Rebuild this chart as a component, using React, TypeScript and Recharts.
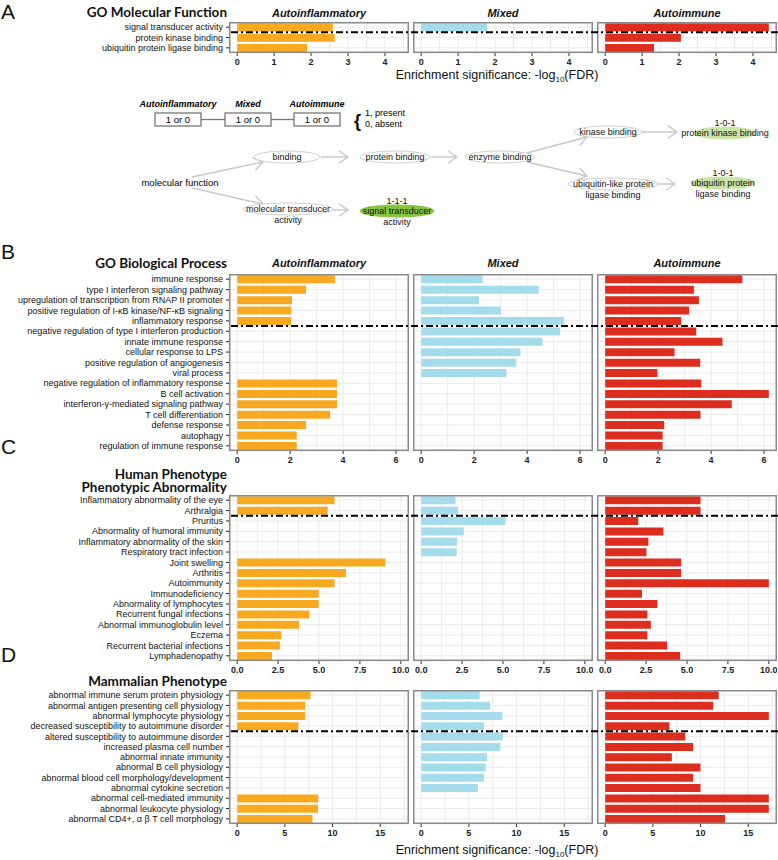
import { Bar, BarChart, CartesianGrid, XAxis, YAxis } from 'recharts';

const FACETS = ['Autoinflammatory', 'Mixed', 'Autoimmune'];
const COLORS = ['#F8A91F', '#A5DCEB', '#DC2D1E'];

// A: GO molecular function
const mfTerms = ['signal transducer activity', 'protein kinase binding', 'ubiquitin protein ligase binding'];
const mfAutoinflammatory = [2.59, 2.64, 1.89];
const mfMixed = [1.78, null, null];
const mfAutoimmune = [4.43, 2.05, 1.32];
const mfTicks = [0, 1, 2, 3, 4];

// B: GO biological process
const bpTerms = [
  'immune response',
  'type I interferon signaling pathway',
  'upregulation of transcription from RNAP II promoter',
  'positive regulation of I-\u03baB kinase/NF-\u03baB signaling',
  'inflammatory response',
  'negative regulation of type I interferon production',
  'innate immune response',
  'cellular response to LPS',
  'positive regulation of angiogenesis',
  'viral process',
  'negative regulation of inflammatory response',
  'B cell activation',
  'interferon-\u03b3-mediated signaling pathway',
  'T cell differentiation',
  'defense response',
  'autophagy',
  'regulation of immune response',
];
const bpAutoinflammatory = [3.69, 2.6, 2.07, 2.04, 2.04, null, null, null, null, null, 3.77, 3.77, 3.77, 3.51, 2.6, 2.25, 2.25];
const bpMixed = [2.32, 4.44, 2.18, 3.01, 5.39, 5.25, 4.58, 3.75, 3.59, 3.22, null, null, null, null, null, null, null];
const bpAutoimmune = [5.18, 3.35, 3.54, 3.17, 2.87, 3.44, 4.43, 2.62, 3.59, 1.97, 3.63, 6.18, 4.78, 3.6, 2.23, 2.17, 2.17];
const bpTicks = [0, 2, 4, 6];

// C: human phenotype
const hpTerms = [
  'Inflammatory abnormality of the eye',
  'Arthralgia',
  'Pruritus',
  'Abnormality of humoral immunity',
  'Inflammatory abnormality of the skin',
  'Respiratory tract infection',
  'Joint swelling',
  'Arthritis',
  'Autoimmunity',
  'Immunodeficiency',
  'Abnormality of lymphocytes',
  'Recurrent fungal infections',
  'Abnormal immunoglobulin level',
  'Eczema',
  'Recurrent bacterial infections',
  'Lymphadenopathy',
];
const hpAutoinflammatory = [5.95, 5.53, null, null, null, null, 9.05, 6.65, 5.95, 4.98, 4.98, 4.41, 3.78, 2.7, 2.61, 2.13];
const hpMixed = [2.1, 2.25, 5.15, 2.6, 2.2, 2.17, null, null, null, null, null, null, null, null, null, null];
const hpAutoimmune = [5.83, 5.83, 2.02, 3.56, 2.64, 2.52, 4.64, 4.64, 10.0, 2.25, 3.19, 2.58, 2.79, 2.58, 3.79, 4.58];
const hpTicks = [0, 2.5, 5, 7.5, 10];

// D: mammalian phenotype
const mpTerms = [
  'abnormal immune serum protein physiology',
  'abnormal antigen presenting cell physiology',
  'abnormal lymphocyte physiology',
  'decreased susceptibility to autoimmune disorder',
  'altered susceptibility to autoimmune disorder',
  'increased plasma cell number',
  'abnormal innate immunity',
  'abnormal B cell physiology',
  'abnormal blood cell morphology/development',
  'abnormal cytokine secretion',
  'abnormal cell-mediated immunity',
  'abnormal leukocyte physiology',
  'abnormal CD4+, \u03b1 \u03b2 T cell morphology',
];
const mpAutoinflammatory = [7.69, 7.13, 7.13, 6.42, null, null, null, null, null, null, 8.51, 8.48, 7.9];
const mpMixed = [6.13, 7.23, 8.51, 6.59, 8.59, 8.3, 6.91, 6.77, 6.59, 5.95, null, null, null];
const mpAutoimmune = [11.9, 11.33, 17.16, 6.74, 8.4, 9.22, 6.99, 9.99, 9.22, 9.99, 17.16, 17.16, 12.56];
const mpTicks = [0, 5, 10, 15];

const FACET_LEFT = [229, 413, 597];
const FACET_W = 180;
const AXIS_H = 20;
const SANS = "'Liberation Sans', Arial, sans-serif";
const TITLE_FONT = "Lato, 'Liberation Sans', sans-serif";

type Section = {
  letter: string;
  letterY: number;
  title: string[];
  titleY: number[];
  stripY?: number;
  terms: string[];
  series: (number | null)[][];
  majors: number[];
  split: number;
  top: number;
  height: number;
  fmt: (v: number) => string;
};

const sections: Section[] = [
  {
    letter: 'A', letterY: 19, title: ['GO Molecular Function'], titleY: [17], stripY: 17,
    terms: mfTerms, series: [mfAutoinflammatory, mfMixed, mfAutoimmune], majors: mfTicks,
    split: 1, top: 22, height: 31, fmt: (v) => String(v),
  },
  {
    letter: 'B', letterY: 259, title: ['GO Biological Process'], titleY: [268], stripY: 267,
    terms: bpTerms, series: [bpAutoinflammatory, bpMixed, bpAutoimmune], majors: bpTicks,
    split: 5, top: 274, height: 177, fmt: (v) => String(v),
  },
  {
    letter: 'C', letterY: 454, title: ['Human Phenotype', 'Phenotypic Abnormality'], titleY: [479, 492],
    terms: hpTerms, series: [hpAutoinflammatory, hpMixed, hpAutoimmune], majors: hpTicks,
    split: 2, top: 495, height: 166, fmt: (v) => v.toFixed(1),
  },
  {
    letter: 'D', letterY: 662, title: ['Mammalian Phenotype'], titleY: [686],
    terms: mpTerms, series: [mpAutoinflammatory, mpMixed, mpAutoimmune], majors: mpTicks,
    split: 4, top: 690, height: 134, fmt: (v) => String(v),
  },
];

// ggplot-style 5% expansion around 0..max
function domainOf(s: Section): [number, number] {
  const vals = s.series.flat().filter((v): v is number => v != null);
  const max = Math.max(...vals);
  return [-0.05 * max, 1.05 * max];
}

function ticksOf(s: Section) {
  const [, hi] = domainOf(s);
  const step = s.majors[1] - s.majors[0];
  const minors = s.majors.map((m) => m + step / 2).filter((v) => v <= hi);
  return [...s.majors, ...minors].sort((a, b) => a - b);
}

function makeTick(s: Section) {
  return (props: any) => {
    const { x, y, payload } = props;
    if (!s.majors.includes(payload.value)) return <g />;
    return (
      <g>
        <line x1={x} x2={x} y1={y} y2={y + 3} stroke="#333" />
        <text x={x} y={y + 12} textAnchor="middle" fontSize={9} fontWeight="bold" fill="#222" fontFamily={SANS}>
          {s.fmt(payload.value)}
        </text>
      </g>
    );
  };
}

function TermTick(props: any) {
  const { x, y, payload } = props;
  return (
    <text x={x} y={y} dy="0.35em" textAnchor="end" fontSize={9} fill="#111" fontFamily={SANS}>
      {payload.value}
    </text>
  );
}

function Facet({ s, index }: { s: Section; index: number }) {
  const showLabels = index === 0;
  const labelW = showLabels ? FACET_LEFT[0] : 0;
  const data = s.terms.map((term, i) => ({ term, value: s.series[index][i] }));
  return (
    <div style={{ position: 'absolute', left: FACET_LEFT[index] - labelW, top: s.top }}>
      <BarChart
        layout="vertical"
        width={FACET_W + labelW}
        height={s.height + AXIS_H}
        data={data}
        margin={{ top: 0, right: 0, bottom: 0, left: 0 }}
        barCategoryGap="13%"
      >
        <CartesianGrid stroke="#ebebeb" />
        <XAxis
          type="number"
          domain={domainOf(s)}
          allowDataOverflow
          ticks={ticksOf(s)}
          interval={0}
          height={AXIS_H}
          axisLine={false}
          tickLine={false}
          tickSize={0}
          tickMargin={0}
          tick={makeTick(s)}
        />
        <YAxis
          type="category"
          dataKey="term"
          width={labelW}
          hide={!showLabels}
          interval={0}
          axisLine={false}
          tickSize={3}
          tickMargin={3}
          tickLine={{ stroke: '#222' }}
          tick={<TermTick />}
        />
        <Bar dataKey="value" fill={COLORS[index]} isAnimationActive={false} />
      </BarChart>
    </div>
  );
}

function Arrow({ x1, y1, x2, y2 }: { x1: number; y1: number; x2: number; y2: number }) {
  const a = Math.atan2(y2 - y1, x2 - x1);
  const len = 11;
  const spread = 0.6;
  const p1 = [x2 - len * Math.cos(a - spread), y2 - len * Math.sin(a - spread)];
  const p2 = [x2 - len * Math.cos(a + spread), y2 - len * Math.sin(a + spread)];
  return (
    <g stroke="#c8c8c8" strokeWidth={1.4} fill="none">
      <line x1={x1} y1={y1} x2={x2} y2={y2} />
      <polyline points={`${p1[0]},${p1[1]} ${x2},${y2} ${p2[0]},${p2[1]}`} />
    </g>
  );
}

function Node({ cx, cy, rx, lines, fill = '#fff', stroke = '#cfcfcf', head }: {
  cx: number; cy: number; rx: number; lines: string[]; fill?: string; stroke?: string; head?: string;
}) {
  return (
    <g fontFamily={SANS} fontSize={9} fill="#111" textAnchor="middle">
      <ellipse cx={cx} cy={cy} rx={rx} ry={6} fill={fill} stroke={stroke} strokeWidth={1} />
      {head && <text x={cx} y={cy - 7}>{head}</text>}
      {lines.map((l, i) => (
        <text key={i} x={cx} y={cy + 3 + i * 11}>{l}</text>
      ))}
    </g>
  );
}

function Diagram() {
  const boxes = [155, 225, 294];
  return (
    <g>
      {boxes.map((x, i) => (
        <g key={i}>
          <text x={x + 23} y={107} textAnchor="middle" fontSize={9} fontWeight="bold" fontStyle="italic" fontFamily={SANS}>{FACETS[i]}</text>
          <rect x={x} y={113} width={46} height={13} fill="#fff" stroke="#777" strokeWidth={1.3} />
          <text x={x + 23} y={123} textAnchor="middle" fontSize={9.5} fontFamily={SANS}>1 or 0</text>
        </g>
      ))}
      <line x1={201} x2={225} y1={119.5} y2={119.5} stroke="#777" strokeWidth={1.3} />
      <line x1={271} x2={294} y1={119.5} y2={119.5} stroke="#777" strokeWidth={1.3} />
      <text x={354} y={127} fontSize={18} fontWeight="bold" fontFamily={SANS}>{'{'}</text>
      <text x={365} y={116} fontSize={9} fontFamily={SANS}>1, present</text>
      <text x={365} y={127} fontSize={9} fontFamily={SANS}>0, absent</text>

      <Arrow x1={192} y1={177} x2={263} y2={162} />
      <Arrow x1={192} y1={188} x2={263} y2={204} />
      <Arrow x1={321} y1={157} x2={348} y2={157} />
      <Arrow x1={431} y1={157} x2={457} y2={157} />
      <Arrow x1={527} y1={153} x2={587} y2={137} />
      <Arrow x1={527} y1={162} x2={587} y2={176} />
      <Arrow x1={642} y1={132} x2={677} y2={132} />
      <Arrow x1={658} y1={184} x2={675} y2={184} />
      <Arrow x1={333} y1={210} x2={348} y2={210} />

      <text x={180} y={186} textAnchor="middle" fontSize={9.5} fontFamily={SANS}>molecular function</text>
      <Node cx={287} cy={157} rx={33} lines={['binding']} />
      <Node cx={395} cy={157} rx={35} lines={['protein binding']} />
      <Node cx={500} cy={157} rx={35} lines={['enzyme binding']} />
      <Node cx={608} cy={132} rx={34} lines={['kinase binding']} />
      <Node cx={613} cy={184} rx={45} lines={['ubiquitin-like protein', 'ligase binding']} />
      <Node cx={288} cy={209} rx={45} lines={['molecular transducer', 'activity']} />
      <Node cx={725} cy={133} rx={30} lines={['protein kinase binding']} fill="#c9e4a6" stroke="#c9e4a6" head="1-0-1" />
      <Node cx={723} cy={183} rx={32} lines={['ubiquitin protein', 'ligase binding']} fill="#c9e4a6" stroke="#c9e4a6" head="1-0-1" />
      <Node cx={397} cy={211} rx={37} lines={['signal transducer', 'activity']} fill="#86c440" stroke="#86c440" head="1-1-1" />
    </g>
  );
}

function AxisTitle({ y }: { y: number }) {
  return (
    <text x={497} y={y} textAnchor="middle" fontSize={12.5} fontFamily={SANS} fill="#111">
      Enrichment significance: -log
      <tspan fontSize={8} dy={3}>10</tspan>
      <tspan dy={-3}>(FDR)</tspan>
    </text>
  );
}

export default function App() {
  return (
    <div style={{ position: 'relative', width: 778, height: 860, background: '#fff', fontFamily: SANS }}>
      <style>{'body{margin:0}'}</style>
      {sections.map((s, si) => FACETS.map((_, fi) => <Facet key={`${si}-${fi}`} s={s} index={fi} />))}
      <svg width={778} height={860} style={{ position: 'absolute', left: 0, top: 0, pointerEvents: 'none' }}>
        {sections.map((s, si) => {
          const yDash = s.top + (s.split * s.height) / s.terms.length;
          return (
            <g key={si}>
              <text x={1} y={s.letterY} fontSize={21} fontFamily={SANS} fill="#111">{s.letter}</text>
              {s.title.map((t, ti) => (
                <text key={ti} x={227} y={s.titleY[ti]} textAnchor="end" fontSize={13.5} fontWeight="bold" fontFamily={TITLE_FONT} fill="#111">{t}</text>
              ))}
              {FACET_LEFT.map((left, fi) => (
                <g key={fi}>
                  <rect x={left + 0.75} y={s.top + 0.75} width={FACET_W - 1.5} height={s.height - 1.5} fill="none" stroke="#8a8a8a" strokeWidth={1.5} />
                  {s.stripY != null && (
                    <text x={left + FACET_W / 2} y={s.stripY} textAnchor="middle" fontSize={11} fontWeight="bold" fontStyle="italic" fontFamily={SANS} fill="#111">{FACETS[fi]}</text>
                  )}
                </g>
              ))}
              <line x1={231} x2={778} y1={yDash} y2={yDash} stroke="#000" strokeWidth={2} strokeDasharray="7 3 2 3" />
            </g>
          );
        })}
        <AxisTitle y={79} />
        <AxisTitle y={854} />
        <Diagram />
      </svg>
    </div>
  );
}
